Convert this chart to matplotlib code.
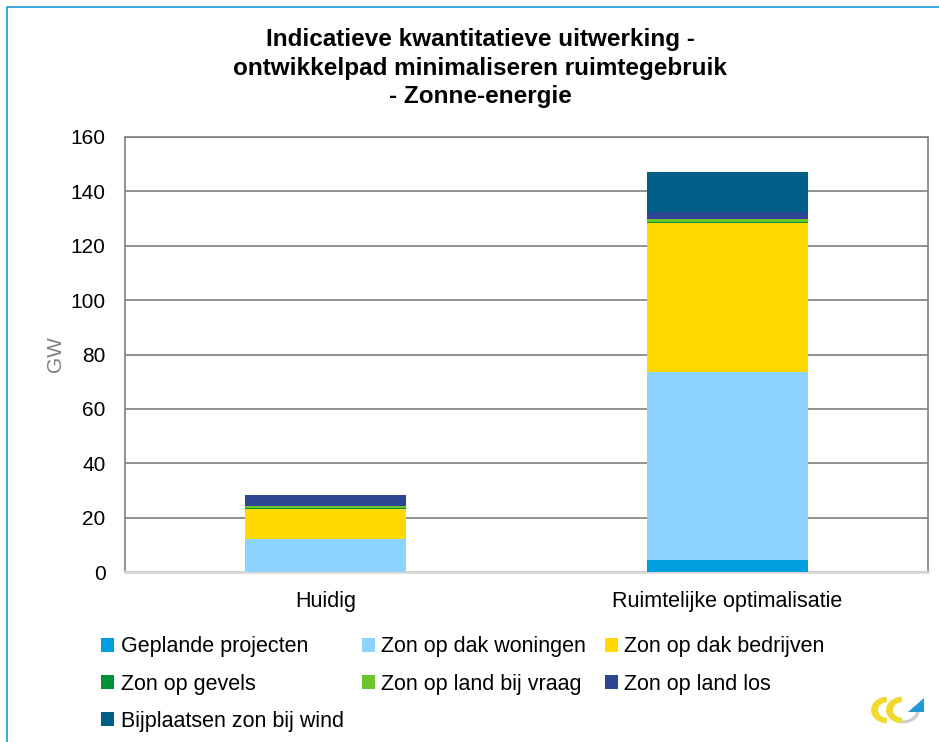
import matplotlib.pyplot as plt
import numpy as np
from matplotlib.patches import Rectangle, Wedge, Polygon

categories = ["Huidig", "Ruimtelijke optimalisatie"]
series = [
    "Geplande projecten",
    "Zon op dak woningen",
    "Zon op dak bedrijven",
    "Zon op gevels",
    "Zon op land bij vraag",
    "Zon op land los",
    "Bijplaatsen zon bij wind",
]
values = {
    "Geplande projecten": [0.0, 4.4],
    "Zon op dak woningen": [12.0, 69.1],
    "Zon op dak bedrijven": [11.0, 54.9],
    "Zon op gevels": [0.4, 0.5],
    "Zon op land bij vraag": [0.9, 1.0],
    "Zon op land los": [4.1, 2.6],
    "Bijplaatsen zon bij wind": [0.0, 14.8],
}
colors = ["#009DDF", "#8DD3FF", "#FFD900", "#009139", "#6CC52B", "#2E4593", "#005F87"]
yticks = [0, 20, 40, 60, 80, 100, 120, 140, 160]

plt.rcParams['font.family'] = ['Liberation Sans', 'DejaVu Sans']

fig = plt.figure(figsize=(9.39, 7.42), dpi=100)
W, H = 939, 742
ax = fig.add_axes([125 / W, 1 - 572 / H, 803 / W, 435 / H])

x = np.arange(len(categories))
bottom = np.zeros(len(categories))
for name, c in zip(series, colors):
    v = np.array(values[name])
    ax.bar(x, v, 0.4, bottom=bottom, color=c, label=name, zorder=3)
    bottom += v

ax.set_xlim(-0.5, 1.5)
ax.set_ylim(0, 160)
ax.set_yticks(yticks)
ax.set_xticks(x)
ax.set_xticklabels(categories, fontsize=15.5)
ax.tick_params(axis='y', labelsize=15, length=0, pad=14)
ax.tick_params(axis='x', length=0, pad=14)
ax.yaxis.grid(True, color="#7F7F7F", lw=1.2, zorder=0)
for s in ["left", "right", "top"]:
    ax.spines[s].set_color("#7F7F7F")
    ax.spines[s].set_linewidth(1.2)
ax.spines["bottom"].set_color("#D9D9D9")
ax.spines["bottom"].set_linewidth(2)
ax.set_ylabel("GW", fontsize=15, color="#7F7F7F", labelpad=4)

fig.text(480 / W, 1 - 68 / H,
         "Indicatieve kwantitatieve uitwerking -\nontwikkelpad minimaliseren ruimtegebruik\n- Zonne-energie",
         ha="center", va="center", fontsize=17.5, fontweight="bold",
         family=["Liberation Sans Narrow", "Liberation Sans", "DejaVu Sans"],
         linespacing=1.3)

# legend filled row by row like the original
handles, labels = ax.get_legend_handles_labels()
order = [0, 3, 6, 1, 4, 2, 5]
fig.legend([handles[i] for i in order], [labels[i] for i in order],
           ncol=3, loc="upper left",
           bbox_to_anchor=(82 / W, 1 - 617 / H), frameon=False,
           fontsize=15.5, handlelength=0.6, handleheight=0.6,
           handletextpad=0.3, columnspacing=0.85, labelspacing=0.75)

# blue frame around slide
fig.patches.append(Rectangle((7 / W, -0.1), 1.2, 1 - 7 / H + 0.1,
                             transform=fig.transFigure, fill=False,
                             edgecolor="#1E9AD6", lw=1.2))

# small logo, bottom right
lx, ly = 888, 710
for dx in (0, 15):
    fig.patches.append(Wedge(((lx + dx) / W, 1 - ly / H), 17 / W, 95, 265,
                             width=7 / W, transform=fig.transFigure,
                             facecolor="#F2D930", edgecolor="none"))
fig.patches.append(Wedge(((lx + 15) / W, 1 - ly / H), 17 / W, 265, 10,
                         width=4 / W, transform=fig.transFigure,
                         facecolor="#CFCFCF", edgecolor="none"))
fig.patches.append(Polygon([((lx + 20) / W, 1 - 712 / H), ((lx + 36) / W, 1 - 698 / H),
                            ((lx + 36) / W, 1 - 712 / H)],
                           transform=fig.transFigure, facecolor="#1E9AD6",
                           edgecolor="none"))

fig.savefig("out.png", dpi=100)
